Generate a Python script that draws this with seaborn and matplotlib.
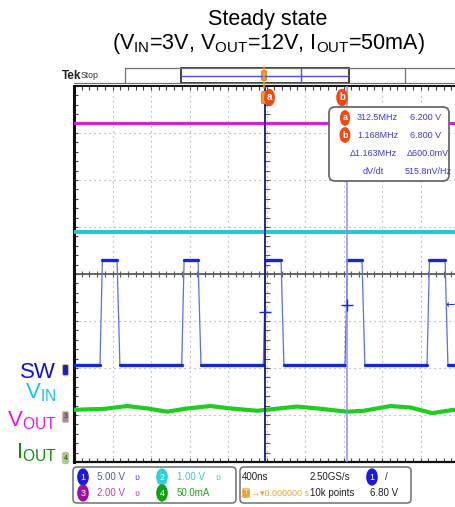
import numpy as np
import pandas as pd
import matplotlib
matplotlib.use("Agg")
import matplotlib.pyplot as plt
import seaborn as sns
from matplotlib.patches import FancyBboxPatch, Rectangle
from matplotlib.ticker import MultipleLocator

# ---------------- data ----------------
time_per_div_ns = 400
sw_rise_ns = [-1730, -881, -33, 816, 1668]
sw_fall_ns = [-1553, -711, 151, 992, 1855]
sw_low_div = -1.94
sw_high_div = 0.30
vout_div = 3.21
vin_div = 0.90
iout_t_ns = [-2000, -1863, -1690, -1447, -1240, -1032, -824, -582, -374, -97, 42,
             319, 527, 838, 1011, 1288, 1496, 1722, 1946, 2000]
iout_div = [-2.89, -2.88, -2.87, -2.81, -2.86, -2.93, -2.86, -2.81, -2.86, -2.91, -2.88,
            -2.82, -2.86, -2.93, -2.91, -2.81, -2.84, -2.96, -2.89, -2.89]
cursor_a_ns = -20
cursor_b_ns = 840
title_lines = ["Steady state", r"(V$_{\rm IN}$=3V, V$_{\rm OUT}$=12V, I$_{\rm OUT}$=50mA)"]
readout_rows = [("312.5MHz", "6.200 V"), ("1.168MHz", "6.800 V"),
                ("\u03941.163MHz", "\u0394600.0mV"), ("dV/dt", "515.8nV/Hz")]
ch_scales = ["5.00 V", "1.00 V", "2.00 V", "50.0mA"]
timebase = ["400ns", "2.50GS/s", "10k points", "6.80 V"]

# ---------------- style ----------------
sns.set_theme(style="white")
plt.rcParams["font.family"] = ["Liberation Sans", "DejaVu Sans"]
plt.rcParams["mathtext.fontset"] = "custom"
plt.rcParams["mathtext.rm"] = "Liberation Sans"
plt.rcParams["mathtext.it"] = "Liberation Sans"

W, H = 455, 507
fig = plt.figure(figsize=(W / 100, H / 100), dpi=100)
fig.patch.set_facecolor("white")

C_SW = "#1428d8"
C_VIN = "#20c8d0"
C_VOUT = "#d820d8"
C_IOUT = "#20cc20"

# main scope screen: 10 x 8 divisions
ax = fig.add_axes([74 / W, 1 - 462 / H, 385 / W, 376 / H])
ax.set_xlim(-5 * time_per_div_ns, 5 * time_per_div_ns)
ax.set_ylim(-4, 4)
ax.set_facecolor("white")
for s in ["left", "top", "bottom", "right"]:
    ax.spines[s].set_color("#101010")
ax.spines["left"].set_linewidth(2.2)
ax.spines["top"].set_linewidth(1.4)
ax.spines["bottom"].set_linewidth(1.6)
ax.xaxis.set_major_locator(MultipleLocator(time_per_div_ns))
ax.xaxis.set_minor_locator(MultipleLocator(time_per_div_ns / 5))
ax.yaxis.set_major_locator(MultipleLocator(1))
ax.yaxis.set_minor_locator(MultipleLocator(0.2))
ax.tick_params(which="both", direction="in", top=True, bottom=True, left=True, right=False,
               labelleft=False, labelbottom=False, length=3, width=0.8, color="#404040")

# dotted graticule
for i in range(-4, 5):
    ax.axvline(i * time_per_div_ns, color="#9a9a9a", lw=0.8, ls=(0, (1, 3.5)), zorder=1)
for j in range(-3, 4):
    ax.axhline(j, color="#9a9a9a", lw=0.8, ls=(0, (1, 3.5)), zorder=1)
# centre cross with minor ticks
ax.axhline(0, color="#5a5a5a", lw=1.3, zorder=2)
cx = np.arange(-5 * time_per_div_ns, 5 * time_per_div_ns + 1, time_per_div_ns / 5)
ax.plot(cx, np.zeros_like(cx), ls="none", marker="|", ms=5, mew=0.8, color="#5a5a5a", zorder=2)
cy = np.arange(-4, 4.01, 0.2)
ax.plot(np.zeros_like(cy), cy, ls="none", marker="_", ms=5, mew=0.8, color="#5a5a5a", zorder=2)

# SW trace from edges
sw_t = [-5 * time_per_div_ns]
sw_v = [sw_low_div]
for r, f in zip(sw_rise_ns, sw_fall_ns):
    sw_t += [r, r + 25, f, f + 30]
    sw_v += [sw_low_div, sw_high_div, sw_high_div, sw_low_div]
sw_t.append(5 * time_per_div_ns)
sw_v.append(sw_low_div)
sw_df = pd.DataFrame({"t": sw_t, "v": sw_v})

flat_t = [-5 * time_per_div_ns, 5 * time_per_div_ns]
vout_df = pd.DataFrame({"t": flat_t, "v": [vout_div, vout_div]})
vin_df = pd.DataFrame({"t": flat_t, "v": [vin_div, vin_div]})
iout_df = pd.DataFrame({"t": iout_t_ns, "v": iout_div})

sns.lineplot(data=vout_df, x="t", y="v", ax=ax, color=C_VOUT, lw=2.2, estimator=None, sort=False, zorder=3)
sns.lineplot(data=vin_df, x="t", y="v", ax=ax, color=C_VIN, lw=2.8, estimator=None, sort=False, zorder=3)
sns.lineplot(data=iout_df, x="t", y="v", ax=ax, color=C_IOUT, lw=3.0, estimator=None, sort=False, zorder=3)
# thin edges, thick plateaus
sns.lineplot(data=sw_df, x="t", y="v", ax=ax, color="#5a6cf0", lw=0.9, estimator=None, sort=False, zorder=4)
for r, f in zip(sw_rise_ns, sw_fall_ns):
    ax.plot([r + 25, f], [sw_high_div, sw_high_div], color=C_SW, lw=2.4, zorder=4)
lows = [(-5 * time_per_div_ns, sw_rise_ns[0])] + \
       [(f + 30, r) for f, r in zip(sw_fall_ns[:-1], sw_rise_ns[1:])] + \
       [(sw_fall_ns[-1] + 30, 5 * time_per_div_ns)]
for a, b in lows:
    ax.plot([a, b], [sw_low_div, sw_low_div], color=C_SW, lw=2.4, zorder=4)
ax.set_xlabel("")
ax.set_ylabel("")

# cursors
ax.axvline(cursor_a_ns, color="#16168a", lw=1.3, zorder=5)
ax.axvline(cursor_b_ns, color="#8c8cff", lw=1.1, zorder=5)
ax.plot([cursor_a_ns], [-0.80], marker="+", ms=9, mew=1.0, color=C_SW, zorder=6)
ax.plot([cursor_b_ns], [-0.67], marker="+", ms=9, mew=1.0, color=C_SW, zorder=6)

# ---------------- overlay in pixel coordinates ----------------
ov = fig.add_axes([0, 0, 1, 1], zorder=10)
ov.set_xlim(0, W)
ov.set_ylim(H, 0)
ov.axis("off")

# title
ov.text(268, 20, title_lines[0], ha="center", va="center", fontsize=15.5, color="black")
ov.text(268, 44, title_lines[1], ha="center", va="center", fontsize=15.5, color="black")

# top status bar
narrow = ["Liberation Sans Narrow", "Liberation Sans"]
ov.text(62, 76, "Tek", ha="left", va="center", fontsize=8.5, fontweight="bold",
        color="#202020", family=narrow)
ov.text(81, 76, "Stop", ha="left", va="center", fontsize=6.3, color="#303030", family=narrow)
ov.plot([125, 455], [68, 68], color="#707070", lw=0.9)
ov.plot([74, 455], [83, 83], color="#707070", lw=0.9)
for xx in [125, 405]:
    ov.plot([xx, xx], [68, 83], color="#707070", lw=0.9)
ov.add_patch(Rectangle((181, 68), 168, 15, fill=False, ec="#202020", lw=1.2))
ov.plot([181, 349], [76, 76], color="#4a4af0", lw=1.0)
ov.plot([301, 301], [68, 83], color="#4a4af0", lw=1.0)
ov.add_patch(FancyBboxPatch((262, 71), 4, 9, boxstyle="round,pad=0.5,rounding_size=1.5",
                            fc="#f0a030", ec="#e08a10", lw=0.8))
ov.plot([264, 264], [67, 88], color="#f09a20", lw=1.2)

# cursor tags
ov.add_patch(FancyBboxPatch((262, 92), 4, 11, boxstyle="round,pad=0.5,rounding_size=1.5",
                            fc="#f0a030", ec="#e08a10", lw=0.8))
for xx, lab in [(269.5, "a"), (342, "b")]:
    ov.text(xx, 97.5, lab, ha="center", va="center", fontsize=7, color="white", fontweight="bold",
            bbox=dict(boxstyle="ellipse,pad=0.12", fc="#f04a10", ec="none"))

# readout box
ov.add_patch(FancyBboxPatch((329, 107), 120, 74, boxstyle="round,pad=0,rounding_size=6",
                            fc="white", ec="#6a6a6a", lw=1.3))
ry = [118, 135, 153, 172]
for k, (l, r) in enumerate(readout_rows):
    if k < 2:
        ov.text(345, ry[k], "ab"[k], ha="center", va="center", fontsize=6.5, color="white",
                fontweight="bold", bbox=dict(boxstyle="ellipse,pad=0.12", fc="#f04a10", ec="none"))
        ov.text(357, ry[k], l, ha="left", va="center", fontsize=6.5, color="#3a3af0", family=narrow)
        ov.text(441, ry[k], r, ha="right", va="center", fontsize=6.5, color="#3a3af0", family=narrow)
    else:
        ov.text(373, ry[k], l, ha="center", va="center", fontsize=6.5, color="#3a3af0", family=narrow)
        ov.text(428, ry[k], r, ha="center", va="center", fontsize=6.5, color="#3a3af0", family=narrow)

# right edge arrow
ov.text(455, 305, "\u2190", ha="right", va="center", fontsize=8, color=C_SW, family=["DejaVu Sans"])

# channel ground markers
for yy, lab, fc in [(370, "1", "#1a1ad8"), (417, "3", "#a58aa5"), (458, "4", "#8ed88e")]:
    ov.add_patch(FancyBboxPatch((63, yy - 5), 5, 10, boxstyle="round,pad=0.6,rounding_size=2",
                                fc=fc, ec="#c8c0a0", lw=0.8))
    ov.text(65.5, yy, lab, ha="center", va="center", fontsize=5, color="#303030")

# channel name labels
ov.text(56, 372, "SW", ha="right", va="center", fontsize=16, color="#1010e0")
ov.text(56, 393, r"V$_{\rm IN}$", ha="right", va="center", fontsize=16, color="#18c0f0")
ov.text(57, 421, r"V$_{\rm OUT}$", ha="right", va="center", fontsize=16, color="#f010f0")
ov.text(57, 453, r"I$_{\rm OUT}$", ha="right", va="center", fontsize=16, color="#108a10")

# bottom panels
ov.add_patch(FancyBboxPatch((73, 467), 163, 36, boxstyle="round,pad=0,rounding_size=4",
                            fc="white", ec="#707070", lw=1.1))
ov.add_patch(FancyBboxPatch((240, 467), 171, 36, boxstyle="round,pad=0,rounding_size=4",
                            fc="white", ec="#707070", lw=1.1))
chans = [(83, 477, "1", "#1a1ad8", 97, ch_scales[0], "#5050f0"),
         (162, 477, "2", "#30d0d8", 177, ch_scales[1], "#30c8e0"),
         (83, 493, "3", "#a010a0", 97, ch_scales[2], "#c040c0"),
         (162, 493, "4", "#10a010", 177, ch_scales[3], "#20a020")]
for cxp, cyp, lab, fc, tx, txt, tc in chans:
    ov.text(cxp, cyp, lab, ha="center", va="center", fontsize=6.5, color="white",
            bbox=dict(boxstyle="ellipse,pad=0.18", fc=fc, ec="none"))
    ov.text(tx, cyp, txt, ha="left", va="center", fontsize=7, color=tc, family=narrow)
for sx, sy, sc in [(137, 477, "#5050f0"), (218, 477, "#30c8e0"), (137, 493, "#c040c0")]:
    ov.text(sx, sy, "\u028b", ha="center", va="center", fontsize=6, color=sc, family=["DejaVu Sans"])

ov.text(242, 477, timebase[0], ha="left", va="center", fontsize=7, color="#202020", family=narrow)
ov.text(310, 477, timebase[1], ha="left", va="center", fontsize=7, color="#202020", family=narrow)
ov.text(310, 493, timebase[2], ha="left", va="center", fontsize=7, color="#202020", family=narrow)
ov.text(370, 493, timebase[3], ha="left", va="center", fontsize=7, color="#202020", family=narrow)
ov.text(372, 477, "1", ha="center", va="center", fontsize=6.5, color="white",
        bbox=dict(boxstyle="ellipse,pad=0.18", fc="#1a1ad8", ec="none"))
ov.text(385, 477, "/", ha="left", va="center", fontsize=7, color="#202020", family=narrow)
ov.text(246, 493, "T", ha="center", va="center", fontsize=6, color="white",
        bbox=dict(boxstyle="round,pad=0.15", fc="#f0a030", ec="none"))
ov.text(251, 493, "\u2192\u25be0.000000 s", ha="left", va="center", fontsize=6.5,
        color="#f0a030", family=["Liberation Sans", "DejaVu Sans"])

fig.savefig("out.png", dpi=100, facecolor="white")
